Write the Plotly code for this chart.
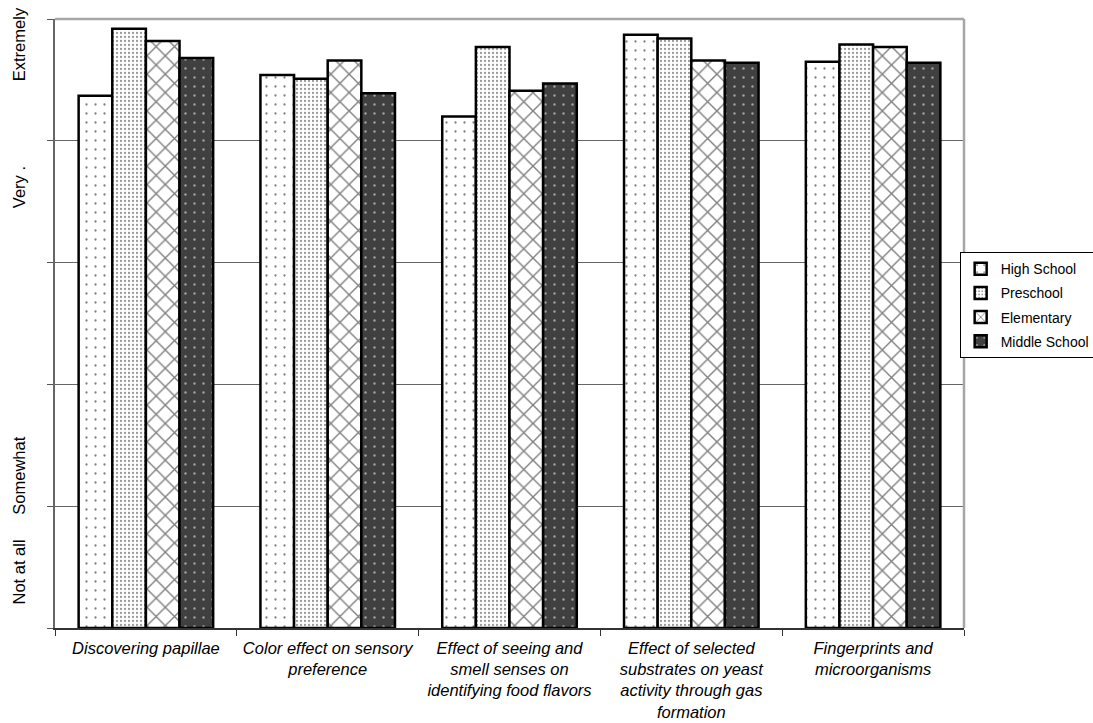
import plotly.graph_objects as go

categories = [
    "Discovering papillae",
    "Color effect on sensory preference",
    "Effect of seeing and smell senses on identifying food flavors",
    "Effect of selected substrates on yeast activity through gas formation",
    "Fingerprints and microorganisms",
]
tick_text = [
    "Discovering papillae",
    "Color effect on sensory<br>preference",
    "Effect of seeing and<br>smell senses on<br>identifying food flavors",
    "Effect of selected<br>substrates on yeast<br>activity through gas<br>formation",
    "Fingerprints and<br>microorganisms",
]
high_school = [4.37, 4.54, 4.20, 4.87, 4.65]
preschool = [4.92, 4.51, 4.77, 4.84, 4.79]
elementary = [4.82, 4.66, 4.41, 4.66, 4.77]
middle_school = [4.68, 4.39, 4.47, 4.64, 4.64]

y_label_text = ["Not at all", "Somewhat", "Very .", "Extremely"]
y_label_pos = [0.44, 1.23, 3.6, 4.77]
y_grid = [0, 1, 2, 3, 4, 5]

FONT = "Arial, Liberation Sans, sans-serif"

series = [
    ("High School", high_school, dict(shape=".", bgcolor="white", fgcolor="black", size=9, solidity=0.05)),
    ("Preschool", preschool, dict(shape=".", bgcolor="white", fgcolor="#333333", size=4, solidity=0.25)),
    ("Elementary", elementary, dict(shape="x", bgcolor="white", fgcolor="black", size=13, solidity=0.2)),
    ("Middle School", middle_school, dict(shape=".", bgcolor="#404040", fgcolor="white", size=9, solidity=0.06)),
]

fig = go.Figure()
for name, vals, pat in series:
    fig.add_trace(go.Bar(
        x=categories, y=vals, name=name, legendgroup=name,
        marker=dict(color=pat["bgcolor"], pattern=pat, line=dict(color="black", width=2.5)),
    ))

fig.update_layout(
    width=1093, height=723,
    paper_bgcolor="white", plot_bgcolor="white",
    margin=dict(l=55, r=129, t=19, b=95, autoexpand=False),
    barmode="group", bargap=0.26, bargroupgap=0,
    font=dict(family=FONT, size=16.5, color="black"),
    legend=dict(xref="container", yref="container", x=0.878, xanchor="left",
                y=0.578, yanchor="middle",
                bordercolor="black", borderwidth=1, font=dict(size=14),
                bgcolor="white", tracegroupgap=3, itemwidth=30),
    showlegend=True,
)
fig.update_xaxes(
    automargin=False,
    tickmode="array", tickvals=categories, ticktext=tick_text,
    tickfont=dict(family=FONT, size=16.5, style="italic"),
    tickson="boundaries", ticks="outside", ticklen=6, tickcolor="#333333",
    ticklabelstandoff=4,
    showline=True, linecolor="#333333", linewidth=1.5,
    showgrid=False, tickangle=0,
)
fig.update_yaxes(
    automargin=False,
    range=[0, 5], tickmode="array", tickvals=y_label_pos, ticktext=y_label_text,
    tickangle=-90, ticks="", showgrid=False, ticklabelstandoff=22,
    tickfont=dict(family=FONT, size=16.5),
    showline=True, linecolor="#666666", linewidth=1.5, zeroline=False,
    minor=dict(tickmode="array", tickvals=y_grid, ticks="outside", ticklen=6,
               tickcolor="#555555", showgrid=True, gridcolor="#666666", gridwidth=1),
)
fig.add_shape(type="line", xref="paper", yref="paper", x0=0, x1=1, y0=1, y1=1,
              line=dict(color="#a6a6a6", width=2.5))
fig.add_shape(type="line", xref="paper", yref="paper", x0=1, x1=1, y0=0, y1=1,
              line=dict(color="#a6a6a6", width=2.5))

fig.write_html("out.html", config={"displayModeBar": False},
               post_script="document.body.style.margin='0';document.body.style.overflow='hidden';")
